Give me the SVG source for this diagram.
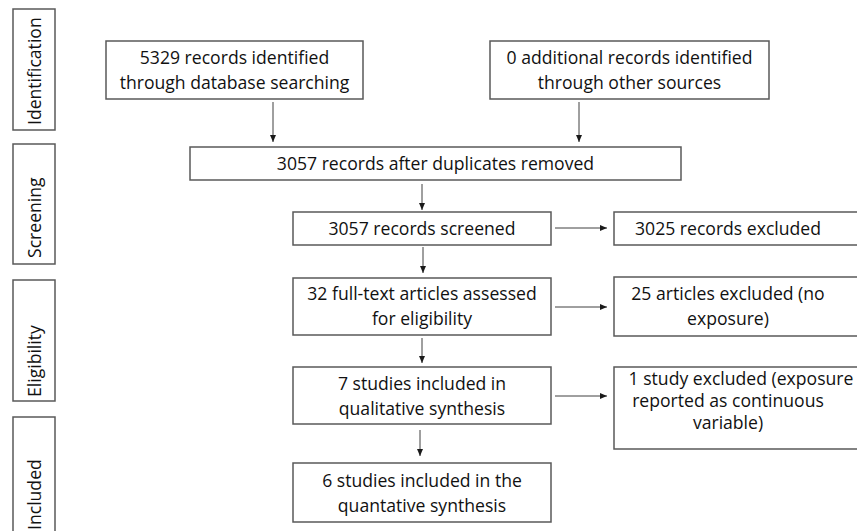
<svg xmlns="http://www.w3.org/2000/svg" width="857" height="531" viewBox="0 0 857 531">
<style>
.b{fill:#fff;stroke:#595959;stroke-width:1.5}
.t{font-family:"Open Sans","Liberation Sans",sans-serif;font-size:17.6px;fill:#111;text-anchor:middle}
.s{font-family:"Open Sans","Liberation Sans",sans-serif;font-size:17.6px;fill:#111}
.c{stroke:#404040;stroke-width:1;fill:none;marker-end:url(#ah)}
</style>
<defs>
<marker id="ah" markerWidth="8" markerHeight="8" refX="7" refY="4" orient="auto" markerUnits="userSpaceOnUse">
<path d="M0,1 L7,4 L0,7 Z" fill="#1a1a1a"/>
</marker>
</defs>
<rect width="857" height="531" fill="#fff"/>
<g id="stage-identification"><rect class="b" x="13" y="9" width="42" height="121"/><text class="s" transform="translate(41,125) rotate(-90)">Identification</text></g>
<g id="stage-screening"><rect class="b" x="13" y="144" width="42" height="120"/><text class="s" transform="translate(41,258) rotate(-90)">Screening</text></g>
<g id="stage-eligibility"><rect class="b" x="13" y="280" width="42" height="121"/><text class="s" transform="translate(41,397) rotate(-90)">Eligibility</text></g>
<g id="stage-included"><rect class="b" x="13" y="417" width="42" height="130"/><text class="s" transform="translate(41,530) rotate(-90)">Included</text></g>

<g id="n-database"><rect class="b" x="106" y="41" width="257" height="58"/><text class="t" x="234.5" y="64">5329 records identified</text><text class="t" x="234.5" y="89">through database searching</text></g>
<g id="n-other"><rect class="b" x="490" y="41" width="279" height="58"/><text class="t" x="629.5" y="64">0 additional records identified</text><text class="t" x="629.5" y="89">through other sources</text></g>
<g id="n-dedup"><rect class="b" x="190" y="147" width="491" height="33"/><text class="t" x="435.5" y="170">3057 records after duplicates removed</text></g>
<g id="n-screened"><rect class="b" x="293" y="212" width="258" height="33"/><text class="t" x="422" y="235">3057 records screened</text></g>
<g id="n-excluded1"><rect class="b" x="614" y="212" width="260" height="33"/><text class="t" x="728" y="235">3025 records excluded</text></g>
<g id="n-fulltext"><rect class="b" x="293" y="278" width="258" height="57"/><text class="t" x="422" y="300">32 full-text articles assessed</text><text class="t" x="422" y="325">for eligibility</text></g>
<g id="n-excluded2"><rect class="b" x="614" y="277" width="260" height="59"/><text class="t" x="728" y="300">25 articles excluded (no</text><text class="t" x="728" y="325">exposure)</text></g>
<g id="n-qualitative"><rect class="b" x="293" y="367" width="258" height="57"/><text class="t" x="422" y="390">7 studies included in</text><text class="t" x="422" y="415">qualitative synthesis</text></g>
<g id="n-excluded3"><rect class="b" x="614" y="367" width="260" height="82"/><text class="t" x="741" y="385">1 study excluded (exposure</text><text class="t" x="728" y="407">reported as continuous</text><text class="t" x="728" y="429">variable)</text></g>
<g id="n-quantitative"><rect class="b" x="293" y="463" width="258" height="59"/><text class="t" x="422" y="487">6 studies included in the</text><text class="t" x="422" y="512">quantative synthesis</text></g>

<g id="connectors">
<line class="c" x1="273" y1="102" x2="273" y2="142"/>
<line class="c" x1="579" y1="102" x2="579" y2="142"/>
<line class="c" x1="422" y1="184" x2="422" y2="210"/>
<line class="c" x1="423" y1="247" x2="423" y2="273"/>
<line class="c" x1="422" y1="338" x2="422" y2="363"/>
<line class="c" x1="420" y1="430" x2="420" y2="456"/>
<line class="c" x1="555" y1="228" x2="607" y2="228"/>
<line class="c" x1="555" y1="307" x2="607" y2="307"/>
<line class="c" x1="555" y1="396" x2="607" y2="396"/>
</g>
</svg>
